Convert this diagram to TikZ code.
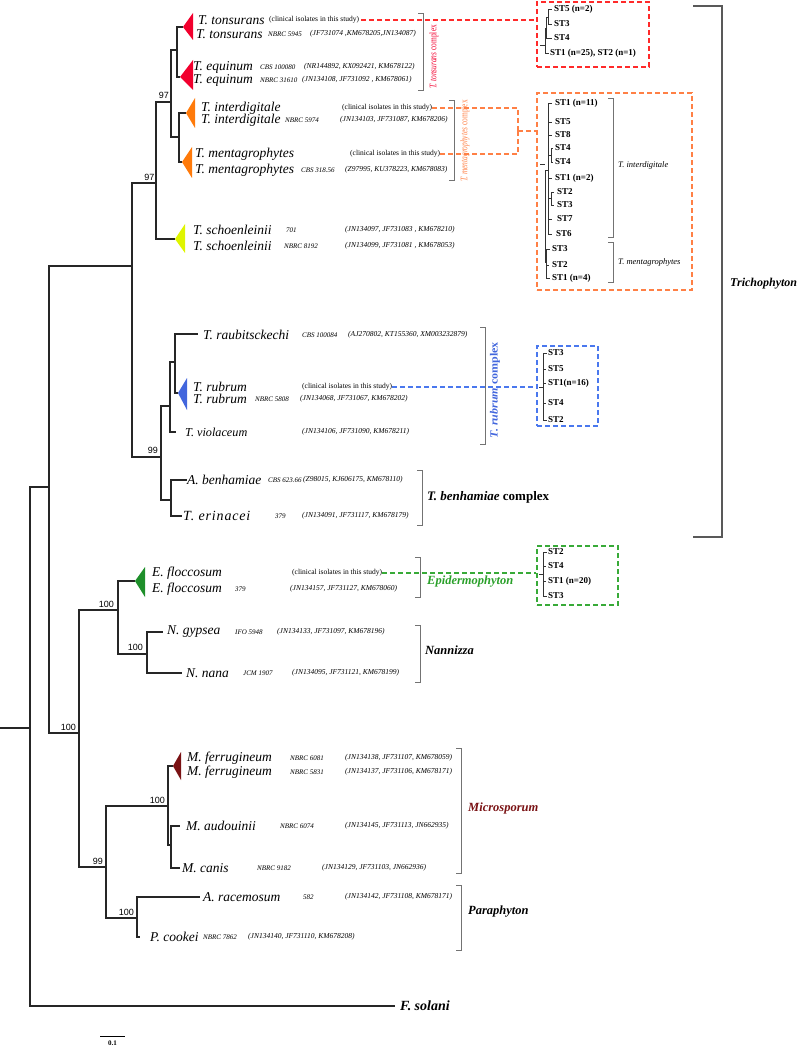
\documentclass[tikz,border=0pt]{standalone}
\usepackage{fontspec}
\setmainfont{Liberation Serif}
\newfontfamily\arialf{Liberation Sans}
\newfontfamily\spacedit[LetterSpace=6]{Liberation Serif}
\usepackage{graphicx}
\definecolor{ctons}{HTML}{F2002E}
\definecolor{corng}{HTML}{FF7A0A}
\definecolor{cyell}{HTML}{DFF500}
\definecolor{cblue}{HTML}{4266DD}
\definecolor{cgrn}{HTML}{1E8F2A}
\definecolor{cmar}{HTML}{7A1214}
\definecolor{dred}{HTML}{FF2A2A}
\definecolor{dorg}{HTML}{FF8045}
\definecolor{dblu}{HTML}{4A78EE}
\definecolor{dgrn}{HTML}{38AA38}
\definecolor{lgrn}{HTML}{2AA02A}
\newcommand\os[1]{\oldstylenums{#1}}
\newcommand\ST[1]{ST\os{#1}}
\begin{document}
\begin{tikzpicture}[x=1pt,y=-1pt,
  br/.style={line width=1.6pt, draw=black!85},
  sp/.style={anchor=west, inner sep=0, font=\fontsize{13.5}{14}\selectfont\itshape},
  sm/.style={anchor=west, inner sep=0, font=\fontsize{7.5}{8}\selectfont},
  cd/.style={anchor=west, inner sep=0, font=\fontsize{7}{8}\selectfont\itshape},
  ac/.style={anchor=west, inner sep=0, font=\fontsize{7.5}{8}\selectfont\itshape},
  bs/.style={anchor=south east, inner sep=0, font=\arialf\fontsize{9}{9}\selectfont},
  st/.style={anchor=west, inner sep=0, font=\fontsize{9}{10}\selectfont\bfseries},
  clade/.style={anchor=west, inner sep=0, font=\fontsize{12.5}{13}\selectfont\bfseries\itshape},
  brk/.style={draw=black!55, line width=0.9pt},
  sttree/.style={draw=black!80, line width=0.8pt},
  dbox/.style={line width=1.3pt, dash pattern=on 5pt off 3pt, inner sep=0},
  dcon/.style={line width=1.1pt, dash pattern=on 5pt off 3pt}
]
\useasboundingbox (0,0) rectangle (800,1048);

% ---------- internal nodes ----------
\coordinate (root) at (0,728);
\coordinate (nR) at (30,728);
\coordinate (nA) at (49,487);
\coordinate (nT) at (132,266);
\coordinate (n97b) at (156,183);
\coordinate (n97a) at (171,102);
\coordinate (nTon) at (177,50);
\coordinate (nMen) at (179,137);
\coordinate (n99) at (161,457);
\coordinate (nRub) at (170,406);
\coordinate (nRub2) at (175,362);
\coordinate (nBen) at (171,500);
\coordinate (nB) at (79,733);
\coordinate (nE) at (118,610);
\coordinate (nN) at (147,654);
\coordinate (nM) at (106,867);
\coordinate (nMic) at (168,806);
\coordinate (nAC) at (171,845);
\coordinate (nPar) at (137,918);
% tips
\coordinate (tTon) at (183,27);
\coordinate (tEqu) at (180,77);
\coordinate (tInt) at (186,113);
\coordinate (tMen) at (182,162);
\coordinate (tSch) at (175,239);
\coordinate (tRau) at (198,334);
\coordinate (tRub) at (178,393);
\coordinate (tVio) at (176,432);
\coordinate (tBen) at (187,480);
\coordinate (tEri) at (182,516);
\coordinate (tFlo) at (135,581);
\coordinate (tGyp) at (163,632);
\coordinate (tNan) at (182,673);
\coordinate (tFer) at (173,766);
\coordinate (tAud) at (180,826);
\coordinate (tCan) at (180,868);
\coordinate (tRac) at (200,897);
\coordinate (tCoo) at (140,937);
\coordinate (tFso) at (395,1006);

% ---------- branches ----------
\draw[br] (root) -- (nR);
\draw[br] (nR) |- (nA);
\draw[br] (nR) |- (tFso);
\draw[br] (nA) |- (nT);
\draw[br] (nA) |- (nB);
\draw[br] (nT) |- (n97b);
\draw[br] (nT) |- (n99);
\draw[br] (n97b) |- (n97a);
\draw[br] (n97b) |- (tSch);
\draw[br] (n97a) |- (nTon);
\draw[br] (n97a) |- (nMen);
\draw[br] (nTon) |- (tTon);
\draw[br] (nTon) |- (tEqu);
\draw[br] (nMen) |- (tInt);
\draw[br] (nMen) |- (tMen);
\draw[br] (n99) |- (nRub);
\draw[br] (n99) |- (nBen);
\draw[br] (nRub) |- (nRub2);
\draw[br] (nRub) |- (tVio);
\draw[br] (nRub2) |- (tRau);
\draw[br] (nRub2) |- (tRub);
\draw[br] (nBen) |- (tBen);
\draw[br] (nBen) |- (tEri);
\draw[br] (nB) |- (nE);
\draw[br] (nB) |- (nM);
\draw[br] (nE) |- (tFlo);
\draw[br] (nE) |- (nN);
\draw[br] (nN) |- (tGyp);
\draw[br] (nN) |- (tNan);
\draw[br] (nM) |- (nMic);
\draw[br] (nM) |- (nPar);
\draw[br] (nMic) |- (tFer);
\draw[br] (nMic) |- (nAC);
\draw[br] (nAC) |- (tAud);
\draw[br] (nAC) |- (tCan);
\draw[br] (nPar) |- (tRac);
\draw[br] (nPar) |- (tCoo);

% ---------- collapsed clades ----------
\fill[ctons] (tTon) -- ++(10,-14) -- ++(0,27) -- cycle;
\fill[ctons] (tEqu) -- ++(13,-17) -- ++(0,30) -- cycle;
\fill[corng] (tInt) -- ++(9,-15) -- ++(0,30) -- cycle;
\fill[corng] (tMen) -- ++(10,-15) -- ++(0,31) -- cycle;
\fill[cyell] (tSch) -- ++(10,-15) -- ++(0,29) -- cycle;
\fill[cblue] (tRub) -- ++(9,-15) -- ++(0,32) -- cycle;
\fill[cgrn] (tFlo) -- ++(10,-14) -- ++(0,30) -- cycle;
\fill[cmar] (tFer) -- ++(8,-14) -- ++(0,28) -- cycle;

% ---------- support values ----------
\node[bs] (s1) at (154.5,181) {97};
\node[bs] (s2) at (169,99) {97};
\node[bs] (s3) at (158,454) {99};
\node[bs] (s4) at (76,731) {100};
\node[bs] (s5) at (114,608) {100};
\node[bs] (s6) at (143,651) {100};
\node[bs] (s7) at (103,865) {99};
\node[bs] (s8) at (165,804) {100};
\node[bs] (s9) at (134,916) {100};

% ---------- taxon labels ----------
\node[sp] (ton1) at (198,20) {T. tonsurans};
\node[sm] (cl1) at (269,20) {(clinical isolates in this study)};
\node[sp] (ton2) at (196,34) {T. tonsurans};
\node[cd] (c2) at (268,34) {NBRC 5945};
\node[ac] (a2) at (310,34) {(JF731074 ,KM678205,JN134087)};
\node[sp] (equ1) at (193,67) {T. equinum};
\node[cd] (c3) at (260,67) {CBS 100080};
\node[ac] (a3) at (304,67) {(NR144892, KX092421, KM678122)};
\node[sp] (equ2) at (193,80) {T. equinum};
\node[cd] (c4) at (260,80) {NBRC 31610};
\node[ac] (a4) at (302,80) {(JN134108, JF731092 , KM678061)};
\node[sp] (int1) at (201,108) {T. interdigitale};
\node[sm] (cl5) at (342,108) {(clinical isolates in this study)};
\node[sp] (int2) at (201,120) {T. interdigitale};
\node[cd] (c6) at (285,120) {NBRC 5974};
\node[ac] (a6) at (340,120) {(JN134103, JF731087, KM678206)};
\node[sp] (men1) at (195,154) {T. mentagrophytes};
\node[sm] (cl7) at (350,154) {(clinical isolates in this study)};
\node[sp] (men2) at (195,170) {T. mentagrophytes};
\node[cd] (c8) at (301,170) {CBS 318.56};
\node[ac] (a8) at (345,170) {(Z97995, KU378223, KM678083)};
\node[sp] (sch1) at (193,230) {T. schoenleinii};
\node[cd] (c9) at (286,230) {701};
\node[ac] (a9) at (345,230) {(JN134097, JF731083 , KM678210)};
\node[sp] (sch2) at (193,246) {T. schoenleinii};
\node[cd] (c10) at (284,246) {NBRC 8192};
\node[ac] (a10) at (345,246) {(JN134099, JF731081 , KM678053)};
\node[sp] (rau) at (203,335) {T. raubitsckechi};
\node[cd] (c11) at (302,335) {CBS 100084};
\node[ac] (a11) at (348,335) {(AJ270802, KT155360, XM003232879)};
\node[sp] (rub1) at (193,387) {T. rubrum};
\node[sm] (cl12) at (302,387) {(clinical isolates in this study)};
\node[sp] (rub2) at (193,399) {T. rubrum};
\node[cd] (c13) at (255,399) {NBRC 5808};
\node[ac] (a13) at (300,399) {(JN134068, JF731067, KM678202)};
\node[sp, font=\fontsize{12.2}{13}\selectfont\itshape] (vio) at (185,432) {T. violaceum};
\node[ac] (a14) at (302,432) {(JN134106, JF731090, KM678211)};
\node[sp] (ben) at (187,480) {A. benhamiae};
\node[cd] (c15) at (268,480) {CBS 623.66};
\node[ac] (a15) at (303,480) {(Z98015, KJ606175, KM678110)};
\node[sp, font=\spacedit\fontsize{14}{14}\selectfont\itshape] (eri) at (183,516) {T. erinacei};
\node[cd] (c16) at (275,516) {379};
\node[ac] (a16) at (302,516) {(JN134091, JF731117, KM678179)};
\node[sp] (flo1) at (152,573) {E. floccosum};
\node[sm] (cle) at (292,573) {(clinical isolates in this study)};
\node[sp] (flo2) at (152,589) {E. floccosum};
\node[cd] (c18) at (235,589) {379};
\node[ac] (a18) at (290,589) {(JN134157, JF731127, KM678060)};
\node[sp] (gyp) at (167,632) {N. gypsea};
\node[cd] (c19) at (235,632) {IFO 5948};
\node[ac] (a19) at (277,632) {(JN134133, JF731097, KM678196)};
\node[sp] (nan) at (186,673) {N. nana};
\node[cd] (c20) at (243,673) {JCM 1907};
\node[ac] (a20) at (292,673) {(JN134095, JF731121, KM678199)};
\node[sp] (fer1) at (187,758) {M. ferrugineum};
\node[cd] (c21) at (290,758) {NBRC 6081};
\node[ac] (a21) at (345,758) {(JN134138, JF731107, KM678059)};
\node[sp] (fer2) at (187,772) {M. ferrugineum};
\node[cd] (c22) at (290,772) {NBRC 5831};
\node[ac] (a22) at (345,772) {(JN134137, JF731106, KM678171)};
\node[sp] (aud) at (186,826) {M. audouinii};
\node[cd] (c23) at (280,826) {NBRC 6074};
\node[ac] (a23) at (345,826) {(JN134145, JF731113, JN662935)};
\node[sp] (can) at (182,868) {M. canis};
\node[cd] (c24) at (257,868) {NBRC 9182};
\node[ac] (a24) at (322,868) {(JN134129, JF731103, JN662936)};
\node[sp] (rac) at (203,897) {A. racemosum};
\node[cd] (c25) at (303,897) {582};
\node[ac] (a25) at (345,897) {(JN134142, JF731108, KM678171)};
\node[sp] (coo) at (150,937) {P. cookei};
\node[cd] (c26) at (203,937) {NBRC 7862};
\node[ac] (a26) at (248,937) {(JN134140, JF731110, KM678208)};
\node[clade, font=\fontsize{14}{14}\selectfont\bfseries\itshape] (fso) at (400,1006) {F. solani};

% ---------- brackets and group labels ----------
\draw[brk] (418,13) -- (423,13) -- (423,90) -- (418,90);
\node[rotate=90, inner sep=0, text=ctons, font=\fontsize{10}{10}\selectfont] (lton) at (434,57) {\resizebox{64pt}{\height}{\textit{T. tonsurans} complex}};
\draw[brk] (449,100) -- (454,100) -- (454,180) -- (449,180);
\node[rotate=90, inner sep=0, text=dorg, font=\fontsize{10}{10}\selectfont] (lmen) at (465,141) {\resizebox{82pt}{\height}{\textit{T. mentagrophytes} complex}};
\draw[brk] (480,327) -- (485,327) -- (485,444) -- (480,444);
\node[rotate=90, inner sep=0, text=cblue, font=\fontsize{11}{11}\selectfont\bfseries] (lrub) at (495,390) {\resizebox{96pt}{\height}{\textit{T. rubrum} complex}};
\draw[brk] (417,470) -- (422,470) -- (422,525) -- (417,525);
\node[clade, font=\fontsize{13}{13}\selectfont\bfseries\itshape] (lben) at (427,497) {T. benhamiae \textup{complex}};
\draw[brk] (415,557) -- (420,557) -- (420,597) -- (415,597);
\node[clade, text=lgrn] (lepi) at (427,582) {Epidermophyton};
\draw[brk] (415,625) -- (420,625) -- (420,682) -- (415,682);
\node[clade] (lnan) at (425,650) {Nannizza};
\draw[brk] (456,748) -- (461,748) -- (461,873) -- (456,873);
\node[clade, text=cmar] (lmic) at (468,808) {Microsporum};
\draw[brk] (456,885) -- (461,885) -- (461,950) -- (456,950);
\node[clade] (lpar) at (468,912) {Paraphyton};
\draw[draw=black!65, line width=1.6pt] (693,6) -- (722,6) -- (722,537) -- (693,537);
\node[clade, font=\fontsize{12}{12}\selectfont\bfseries\itshape] (ltri) at (730,284) {Trichophyton};

% ---------- ST boxes ----------
\node[dbox, draw=dred, minimum width=112pt, minimum height=65pt] (rbox) at (593,34.5) {};
\node[dbox, draw=dorg, minimum width=155pt, minimum height=197pt] (obox) at (614.5,191.5) {};
\node[dbox, draw=dblu, minimum width=61pt, minimum height=80pt] (bbox) at (567.5,386) {};
\node[dbox, draw=dgrn, minimum width=81pt, minimum height=59pt] (gbox) at (577.5,575.5) {};

% red box content
\node[st] (r1) at (554,9) {\ST{5} (n=\os{2})};
\node[st] (r2) at (554,24) {\ST{3}};
\node[st] (r3) at (554,38) {\ST{4}};
\node[st] (r4) at (550,53) {\ST{1} (n=\os{25}), \ST{2} (n=\os{1})};
\draw[sttree] (552,9) -- (548,9) -- (548,24) -- (552,24);
\draw[sttree] (548,17) -- (546,17) -- (546,38) -- (552,38);
\draw[sttree] (546,28) -- (545,28) -- (545,53) -- (549,53);
\draw[sttree] (540,45) -- (545,45);

% orange box content
\node[st] (o1) at (555,103) {\ST{1} (n=\os{11})};
\node[st] (o2) at (555,122) {\ST{5}};
\node[st] (o3) at (555,135) {\ST{8}};
\node[st] (o4) at (555,148) {\ST{4}};
\node[st] (o5) at (555,162) {\ST{4}};
\node[st] (o6) at (555,178) {\ST{1} (n=\os{2})};
\node[st] (o7) at (557,192) {\ST{2}};
\node[st] (o8) at (557,205) {\ST{3}};
\node[st] (o9) at (557,219) {\ST{7}};
\node[st] (o10) at (556,234) {\ST{6}};
\node[st] (o11) at (552,249) {\ST{3}};
\node[st] (o12) at (552,265) {\ST{2}};
\node[st] (o13) at (552,278) {\ST{1} (n=\os{4})};
\draw[sttree] (552,103) -- (548,103) -- (548,234) -- (552,234);
\foreach \yy in {122,135,178,219} \draw[sttree] (548,\yy) -- (552,\yy);
\draw[sttree] (548,155) -- (551,155);
\draw[sttree] (553,148) -- (551,148) -- (551,162) -- (553,162);
\draw[sttree] (548,198) -- (551,198);
\draw[sttree] (554,192) -- (551,192) -- (551,205) -- (554,205);
\draw[sttree] (550,249) -- (546,249) -- (546,278) -- (550,278);
\draw[sttree] (546,265) -- (549,265);
\draw[sttree] (548,170) -- (545,170) -- (545,262) -- (546,262);
\draw[sttree] (540,164) -- (545,164);
\draw[draw=black!55, line width=0.9pt] (608,98) -- (613,98) -- (613,237) -- (608,237);
\node[anchor=west, inner sep=0, font=\fontsize{8.5}{9}\selectfont\itshape] (oi) at (618,165) {T. interdigitale};
\draw[draw=black!55, line width=0.9pt] (608,242) -- (613,242) -- (613,282) -- (608,282);
\node[anchor=west, inner sep=0, font=\fontsize{8.5}{9}\selectfont\itshape] (om) at (618,262) {T. mentagrophytes};

% blue box content
\node[st] (b1) at (548,353) {\ST{3}};
\node[st] (b2) at (548,369) {\ST{5}};
\node[st] (b3) at (548,383) {\ST{1}(n=\os{16})};
\node[st] (b4) at (548,403) {\ST{4}};
\node[st] (b5) at (548,420) {\ST{2}};
\draw[sttree] (547,353) -- (543,353) -- (543,420) -- (547,420);
\foreach \yy in {369,383,403} \draw[sttree] (543,\yy) -- (546,\yy);
\draw[sttree] (539,387) -- (543,387);

% green box content
\node[st] (g1) at (548,552) {\ST{2}};
\node[st] (g2) at (548,566) {\ST{4}};
\node[st] (g3) at (548,581) {\ST{1} (n=\os{20})};
\node[st] (g4) at (548,596) {\ST{3}};
\draw[sttree] (547,552) -- (543,552) -- (543,596) -- (547,596);
\foreach \yy in {566,581} \draw[sttree] (543,\yy) -- (546,\yy);
\draw[sttree] (539,574) -- (543,574);

% ---------- dashed connectors ----------
\draw[dcon, dred] (cl1.east) ++(2,0) -- (cl1.east -| rbox.west);
\coordinate (oj) at (518,131);
\draw[dcon, dorg] (cl5.east) -| (oj);
\draw[dcon, dorg] (cl7.east) -| (oj);
\draw[dcon, dorg] (oj) -- (oj -| obox.west);
\draw[dcon, dblu] (cl12.east) -- (cl12.east -| bbox.west);
\draw[dcon, dgrn] (cle.east) -- (cle.east -| gbox.west);

% ---------- scale bar ----------
\coordinate (sb1) at (100,1036);
\coordinate (sb2) at (125,1036);
\draw[line width=1pt] (sb1) -- (sb2);
\node[inner sep=0, font=\fontsize{7}{7}\selectfont\bfseries] (sbl) at (112.5,1043) {0.1};
\end{tikzpicture}
\end{document}
